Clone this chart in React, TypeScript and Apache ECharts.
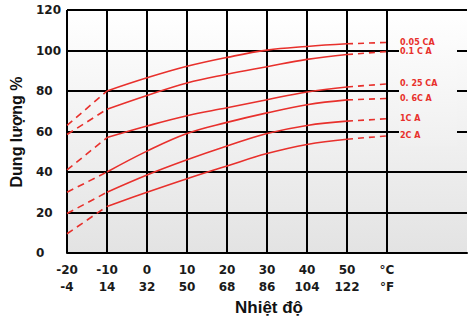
import React, { useEffect, useRef } from 'react';
import * as echarts from 'echarts';

const temperaturesC = [-20, -10, 0, 10, 20, 30, 40, 50, 60];
const celsiusLabels = ['-20', '-10', '0', '10', '20', '30', '40', '50', '°C'];
const fahrenheitLabels = ['-4', '14', '32', '50', '68', '86', '104', '122', '°F'];

const rateNames = ['0.05 CA', '0.1 C A', '0. 25 CA', '0. 6C A', '1C A', '2C A'];
const cap005 = [63, 80, 86.5, 92.2, 96.6, 100.2, 102, 103.3, 104];
const cap01 = [58.5, 71, 77.8, 84, 88.3, 92, 95.6, 98, 99.5];
const cap025 = [41, 57, 62.7, 67.8, 71.7, 75.7, 79.5, 82, 83.5];
const cap06 = [30, 40, 50.3, 59, 64.5, 69.2, 73.2, 75.6, 76.3];
const cap1 = [19.5, 30, 38.5, 46, 52.8, 59, 63, 65.1, 66.3];
const cap2 = [9.5, 23, 30, 36.7, 43, 49.1, 53.6, 56.2, 57.8];
const capacities = [cap005, cap01, cap025, cap06, cap1, cap2];

const xTitle = 'Nhiệt độ';
const yTitle = 'Dung lượng %';

const RED = '#e8302c';

export default function App() {
  const ref = useRef<HTMLDivElement>(null);
  useEffect(() => {
    if (!ref.current) return;
    const chart = echarts.init(ref.current, undefined, { renderer: 'svg' });
    const series: any[] = [];
    capacities.forEach((vals, k) => {
      const pts = temperaturesC.map((t, i) => [t, vals[i]]);
      series.push({
        type: 'line', name: rateNames[k] + ' L', data: pts.slice(0, 2), showSymbol: false, symbol: 'none',
        lineStyle: { color: RED, width: 1.6, type: [7, 5] }, z: 3, silent: true,
      });
      series.push({
        type: 'line', name: rateNames[k], data: pts.slice(1, 8), showSymbol: false, symbol: 'none', smooth: 0.4,
        lineStyle: { color: RED, width: 1.6 }, z: 3, silent: true,
      });
      series.push({
        type: 'line', name: rateNames[k] + ' R', data: pts.slice(7, 9), showSymbol: false, symbol: 'none',
        lineStyle: { color: RED, width: 1.6, type: [6, 5] }, z: 3, silent: true,
        endLabel: {
          show: true, formatter: () => rateNames[k], color: RED, fontFamily: 'DejaVu Sans',
          fontWeight: 'bold', fontSize: 8, distance: 13,
        },
      });
    });
    const xLineColors = ['#000', '#000', '#000', '#000', '#000', '#000', '#000', '#000', '#000', 'rgba(0,0,0,0)', 'rgba(0,0,0,0)'];
    chart.setOption({
      animation: false,
      grid: {
        left: 67, right: 0, top: 10, height: 243, show: true, borderWidth: 0,
        backgroundColor: {
          type: 'linear', x: 0, y: 0, x2: 0, y2: 1,
          colorStops: [{ offset: 0, color: '#ffffff' }, { offset: 1, color: '#e3e3e3' }],
        },
      },
      xAxis: {
        type: 'value', min: -20, max: 80, interval: 10,
        axisLine: { show: true, lineStyle: { color: '#000', width: 2 } },
        axisTick: { show: false },
        splitLine: { show: true, lineStyle: { color: xLineColors, width: 2 } },
        axisLabel: {
          margin: 8.5, lineHeight: 17, color: '#1a1a1a', fontFamily: 'DejaVu Sans', fontWeight: 'bold', fontSize: 12,
          formatter: (v: number) => {
            const i = temperaturesC.indexOf(v);
            return i >= 0 ? celsiusLabels[i] + '\n' + fahrenheitLabels[i] : '';
          },
        },
      },
      yAxis: {
        type: 'value', min: 0, max: 120, interval: 20,
        axisLine: { show: true, lineStyle: { color: '#000', width: 2 } },
        axisTick: { show: false },
        splitLine: { show: true, lineStyle: { color: '#000', width: 2 } },
        axisLabel: {
          align: 'left', margin: 31, color: '#1a1a1a', fontFamily: 'DejaVu Sans', fontWeight: 'bold', fontSize: 12,
        },
      },
      graphic: [
        {
          type: 'rect', z: 1, shape: { x: 399, y: 38, width: 58, height: 108 },
          style: {
            fill: {
              type: 'linear', x: 0, y: 0, x2: 0, y2: 1,
              colorStops: [{ offset: 0, color: 'rgb(252,252,252)' }, { offset: 1, color: 'rgb(240,240,240)' }],
            },
          },
        },
        {
          type: 'text', x: 269, y: 307,
          style: { text: xTitle, fill: '#111', font: 'bold 17px "Liberation Sans", Arial, sans-serif', align: 'center', verticalAlign: 'middle' },
        },
        {
          type: 'text', x: 16, y: 132, rotation: Math.PI / 2,
          style: { text: yTitle, fill: '#111', font: 'bold 16px "Liberation Sans", Arial, sans-serif', align: 'center', verticalAlign: 'middle' },
        },
      ],
      series,
    });
    return () => chart.dispose();
  }, []);
  return <div ref={ref} style={{ position: 'absolute', left: 0, top: 0, width: 470, height: 320 }} />;
}
